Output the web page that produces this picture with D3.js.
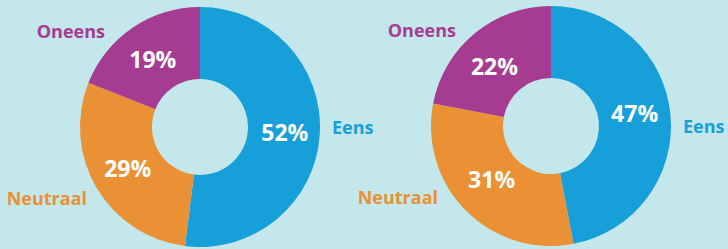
<!DOCTYPE html>
<html>
<head>
<meta charset="utf-8">
<script src="https://cdn.jsdelivr.net/npm/d3@7"></script>
<style>
  html, body { margin: 0; padding: 0; background: #c3e7ea; }
  svg { display: block; }
</style>
</head>
<body>
<svg></svg>
<script>
// Data
const categories = ["Eens", "Neutraal", "Oneens"];
const valuesLeft = [52, 29, 19];
const valuesRight = [47, 31, 22];
const colors = ["#179fda", "#e99134", "#a63c92"];

const w = 728, h = 249;
const svg = d3.select("svg").attr("width", w).attr("height", h);

svg.append("rect").attr("width", w).attr("height", h).attr("fill", "#c3e7ea");

const outerR = 120, innerR = 48;
const font = "'Open Sans', 'Noto Sans', sans-serif";

// label offsets from donut centre (category names), anchor per category
const nameOffsets = {
  Eens: { dx: 132, dy: 7, anchor: "start" },
  Neutraal: { dx: -113, dy: 78, anchor: "end" },
  Oneens: { dx: -95, dy: -89, anchor: "end" }
};

const pie = d3.pie().sort(null).value(d => d.value);
const arc = d3.arc().innerRadius(innerR).outerRadius(outerR);

function donut(values, cx, cy, nudges) {
  const data = categories.map((c, i) => ({ name: c, value: values[i], color: colors[i] }));
  const g = svg.append("g").attr("transform", `translate(${cx},${cy})`);

  g.selectAll("path")
    .data(pie(data))
    .enter()
    .append("path")
    .attr("d", arc)
    .attr("fill", d => d.data.color);

  // percentages inside the ring
  g.selectAll("text.pct")
    .data(pie(data))
    .enter()
    .append("text")
    .attr("class", "pct")
    .attr("x", (d, i) => arc.centroid(d)[0] + nudges[i][0])
    .attr("y", (d, i) => arc.centroid(d)[1] + nudges[i][1])
    .attr("dy", "0.36em")
    .attr("text-anchor", "middle")
    .attr("fill", "#fff")
    .attr("font-family", font)
    .attr("font-weight", 700)
    .attr("font-size", 23)
    .text(d => d.data.value + "%");

  // category names outside
  g.selectAll("text.name")
    .data(data)
    .enter()
    .append("text")
    .attr("class", "name")
    .attr("x", d => nameOffsets[d.name].dx)
    .attr("y", d => nameOffsets[d.name].dy)
    .attr("text-anchor", d => nameOffsets[d.name].anchor)
    .attr("fill", d => d.color)
    .attr("font-family", font)
    .attr("font-weight", 700)
    .attr("font-size", 18)
    .text(d => d.name);
}

donut(valuesLeft, 200, 127, [[1, 0], [0, -1], [0, 2]]);
donut(valuesRight, 551, 126, [[0, -4], [0, -6], [-3, 5]]);
</script>
</body>
</html>
